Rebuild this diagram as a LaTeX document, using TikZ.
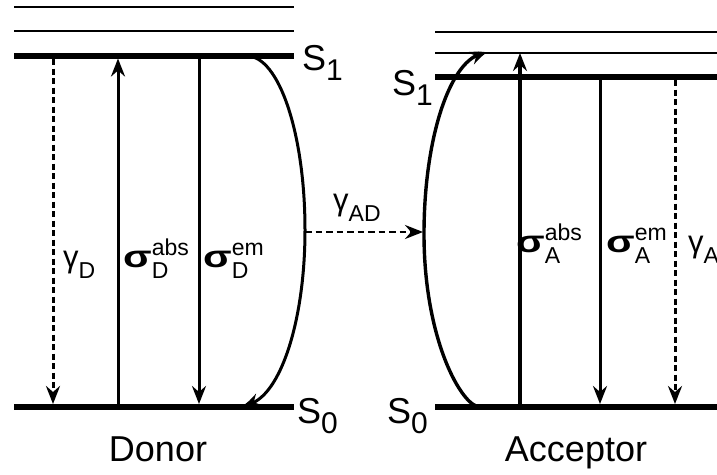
\documentclass[tikz,border=0pt]{standalone}
\usepackage{fontspec}
\usepackage{graphicx}
\setmainfont{Liberation Sans}
\usetikzlibrary{arrows.meta,bending}
\newcommand\labfont{\fontsize{31}{31}\selectfont}
\newcommand\subfont{\fontsize{23}{23}\selectfont}
\newcommand\bigfont{\fontsize{36}{36}\selectfont}
\newcommand\sgm{\scalebox{1.35}[1]{\bfseries σ}}
\newcommand\sublbl[3]{#1\makebox[0pt][l]{\raisebox{12pt}{\subfont #3}}\raisebox{-11pt}{\subfont #2}}
\newcommand\slbl[1]{S\raisebox{-10pt}{\fontsize{30}{30}\selectfont #1}}
\begin{document}
\begin{tikzpicture}[x=1pt,y=1pt,
  level/.style={line width=1.7pt},
  state/.style={line width=5.8pt},
  trans/.style={line width=3pt},
  transthick/.style={line width=4.2pt},
  dashtrans/.style={line width=3pt, dash pattern=on 6pt off 3.5pt},
  tip/.style={-{Stealth[length=18pt,width=14pt,inset=6pt]}},
  bendtip/.style={-{Stealth[length=17pt,width=14pt,inset=6pt,bend]}},
  lbl/.style={anchor=base west, inner sep=0pt, font=\labfont},
  big/.style={anchor=base west, inner sep=0pt, font=\bigfont},
  caption/.style={anchor=base, inner sep=0pt, font=\bigfont}]
\useasboundingbox (0,0) rectangle (717,-474);
% Donor levels
\draw[level] (14,-7) -- (294,-7);
\draw[level] (14,-31) -- (294,-31);
\draw[state] (14,-56) -- (294,-56);
\draw[state] (14,-407) -- (294,-407);
% Acceptor levels
\draw[level] (435,-32) -- (717,-32);
\draw[level] (435,-53) -- (717,-53);
\draw[state] (435,-77) -- (717,-77);
\draw[state] (435,-407) -- (717,-407);
% Donor coordinates
\coordinate (dgT) at (53,-59);  \coordinate (dgB) at (53,-404);
\coordinate (daB) at (118,-404); \coordinate (daT) at (118,-58.5);
\coordinate (deT) at (199,-59); \coordinate (deB) at (199,-404);
\coordinate (dcS) at (247,-56);
\coordinate (dcM) at (305,-232);
% Acceptor coordinates
\coordinate (aaB) at (520,-404); \coordinate (aaT) at (520,-53);
\coordinate (aeT) at (600,-80); \coordinate (aeB) at (600,-404);
\coordinate (agT) at (675,-80); \coordinate (agB) at (675,-404);
\coordinate (acS) at (480,-407);
\coordinate (acM) at (423,-232);
% Donor transitions
\draw[dashtrans,tip] (dgT) -- (dgB);
\draw[trans,tip] (daB) -- (daT);
\draw[trans,tip] (deT) -- (deB);
\draw[trans,bendtip] (dcS) arc[start angle=90,end angle=0,x radius=58pt,y radius=174pt]
  arc[start angle=0,end angle=-90,x radius=62pt,y radius=175pt];
% Acceptor transitions
\draw[transthick,tip] (aaB) -- (aaT);
\draw[trans,tip] (aeT) -- (aeB);
\draw[dashtrans,tip] (agT) -- (agB);
\draw[line width=3.4pt,bendtip] (acS) .. controls (462,-407) and (424,-340) .. (424,-234)
  arc[start angle=180,end angle=90,x radius=63pt,y radius=181pt];
% Energy transfer
\draw[line width=2.8pt, dash pattern=on 6.5pt off 4pt,-{Stealth[length=18pt,width=14pt,inset=6pt]}] (dcM) -- (acM);
% Labels
\node[lbl] (lgD) at (63,-267) {\sublbl{γ}{D}{}};
\node[lbl] (lsDa) at (123,-267) {\sublbl{\sgm}{D}{abs}};
\node[lbl] (lsDe) at (203,-267) {\sublbl{\sgm}{D}{em}};
\node[lbl] (lgAD) at (333,-210) {\sublbl{γ}{AD}{}};
\node[lbl] (lsAa) at (516,-252) {\sublbl{\sgm}{A}{abs}};
\node[lbl] (lsAe) at (606,-252) {\sublbl{\sgm}{A}{em}};
\node[lbl] (lgA) at (688,-252) {\sublbl{γ}{A}{}};
\node[big] (dS1) at (302,-70) {\slbl{1}};
\node[big] (aS1) at (392,-95) {\slbl{1}};
\node[big] (dS0) at (297,-423) {\slbl{0}};
\node[big] (aS0) at (387,-423) {\slbl{0}};
\node[caption] (don) at (158,-461) {Donor};
\node[caption] (acc) at (576,-461) {Acceptor};
\end{tikzpicture}
\end{document}
